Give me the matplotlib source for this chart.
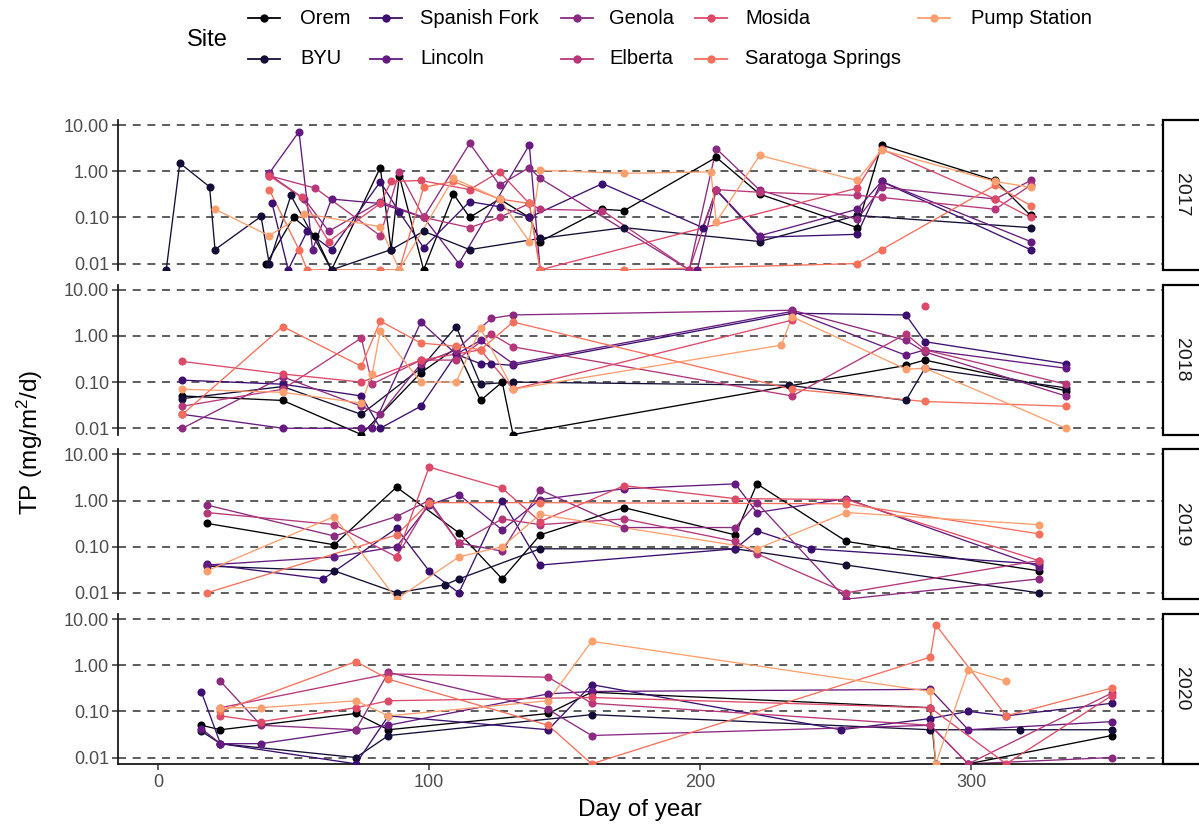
import numpy as np
import matplotlib
matplotlib.use("Agg")
import matplotlib.pyplot as plt
from matplotlib.lines import Line2D
from matplotlib.patches import Rectangle

plt.rcParams['font.family'] = ['Liberation Sans', 'DejaVu Sans']
plt.rcParams['mathtext.fontset'] = 'custom'
plt.rcParams['mathtext.rm'] = 'Liberation Sans'
plt.rcParams['mathtext.it'] = 'Liberation Sans:italic'

# ---- data -----------------------------------------------------------------
sites = ["Orem", "BYU", "Spanish Fork", "Lincoln", "Genola", "Elberta",
         "Mosida", "Saratoga Springs", "Pump Station"]
site_colors = ["#000004", "#140E36", "#3B0F70", "#641A80", "#8C2981",
               "#B73779", "#DE4968", "#F7705C", "#FE9F6D"]
years = [2017, 2018, 2019, 2020]
x_ticks = [0, 100, 200, 300]
y_ticks = [0.01, 0.1, 1, 10]
y_tick_labels = ["0.01", "0.10", "1.00", "10.00"]

# sampling day of year and total phosphorus flux (mg/m2/d), per site and year
orem_day = {
    2017: [40, 50, 58, 64, 82, 86, 89, 98, 109, 115, 126, 137, 141, 164, 172, 206, 222, 258, 267, 309, 322],
    2018: [9, 46, 75, 97, 110, 119, 127, 131, 276, 283, 335],
    2019: [18, 65, 88, 111, 127, 141, 172, 213, 221, 254, 325],
    2020: [16, 23, 73, 85, 144, 160, 285, 287, 299, 352],
}
orem_tp = {
    2017: [0.01, 0.1, 0.04, 0.0073, 1.2, 0.02, 0.8, 0.0073, 0.32, 0.1, 0.25, 0.1, 0.03, 0.15, 0.14, 2.0, 0.32, 0.06, 3.7, 0.63, 0.11],
    2018: [0.05, 0.04, 0.0073, 0.16, 0.55, 0.04, 0.1, 0.0073, 0.23, 0.3, 0.065],
    2019: [0.32, 0.11, 1.95, 0.2, 0.02, 0.18, 0.7, 0.18, 2.3, 0.13, 0.03],
    2020: [0.05, 0.04, 0.09, 0.04, 0.09, 0.26, 0.12, 0.0073, 0.0073, 0.03],
}
byu_day = {
    2017: [3, 8, 19, 21, 38, 41, 49, 64, 86, 98, 115, 141, 172, 222, 258, 322],
    2018: [9, 46, 75, 97, 110, 119, 131, 233, 276, 283, 335],
    2019: [18, 65, 88, 106, 111, 141, 213, 254, 325],
    2020: [16, 23, 73, 85, 160, 285, 318, 352],
}
byu_tp = {
    2017: [0.0073, 1.5, 0.46, 0.02, 0.105, 0.01, 0.3, 0.0073, 0.02, 0.05, 0.02, 0.035, 0.06, 0.03, 0.11, 0.06],
    2018: [0.044, 0.08, 0.02, 0.2, 1.6, 0.09, 0.1, 0.085, 0.04, 0.2, 0.075],
    2019: [0.038, 0.03, 0.01, 0.015, 0.02, 0.09, 0.09, 0.04, 0.01],
    2020: [0.037, 0.02, 0.01, 0.03, 0.085, 0.04, 0.04, 0.04],
}
spanish_fork_day = {
    2017: [42, 48, 55, 64, 82, 89, 98, 115, 126, 137, 164, 201, 206, 222, 258, 267, 322],
    2018: [9, 46, 75, 82, 97, 110, 119, 123, 131, 234, 276, 283, 335],
    2019: [18, 61, 88, 100, 111, 127, 141, 213, 221, 241, 325],
    2020: [16, 23, 73, 85, 144, 160, 252, 285, 299, 313, 352],
}
spanish_fork_tp = {
    2017: [0.21, 0.0073, 0.05, 0.02, 0.59, 0.13, 0.022, 0.22, 0.17, 0.1, 0.54, 0.06, 0.39, 0.037, 0.043, 0.6, 0.02],
    2018: [0.11, 0.09, 0.05, 0.01, 0.03, 0.4, 0.25, 0.25, 0.23, 3.1, 2.85, 0.75, 0.25],
    2019: [0.042, 0.02, 0.25, 0.03, 0.01, 1.0, 0.04, 0.09, 0.22, 0.09, 0.042],
    2020: [0.26, 0.02, 0.0073, 0.08, 0.04, 0.38, 0.04, 0.07, 0.1, 0.08, 0.15],
}
lincoln_day = {
    2017: [41, 52, 57, 64, 82, 98, 111, 137, 141, 199, 206, 222, 258, 267, 322],
    2018: [9, 46, 75, 79, 97, 110, 119, 131, 234, 276, 283, 335],
    2019: [18, 65, 88, 100, 111, 127, 141, 172, 213, 221, 254, 325],
    2020: [16, 23, 38, 73, 85, 144, 160, 285, 299, 352],
}
lincoln_tp = {
    2017: [0.9, 7.2, 0.02, 0.25, 0.2, 0.1, 0.01, 3.7, 0.0073, 0.0073, 0.4, 0.04, 0.15, 0.6, 0.03],
    2018: [0.02, 0.01, 0.01, 0.01, 2.0, 0.4, 0.8, 0.25, 3.4, 0.38, 0.5, 0.2],
    2019: [0.04, 0.06, 0.1, 0.8, 1.35, 0.23, 1.05, 1.8, 2.3, 0.55, 1.1, 0.037],
    2020: [0.042, 0.02, 0.02, 0.04, 0.05, 0.24, 0.27, 0.3, 0.04, 0.06],
}
genola_day = {
    2017: [41, 54, 63, 82, 98, 115, 126, 137, 141, 196, 206, 222, 258, 267, 309, 322],
    2018: [9, 46, 75, 82, 97, 110, 123, 131, 234, 276, 283, 335],
    2019: [18, 65, 88, 100, 111, 127, 141, 172, 213, 221, 254, 325],
    2020: [23, 38, 73, 85, 144, 160, 285, 299, 352],
}
genola_tp = {
    2017: [0.85, 0.25, 0.05, 0.22, 0.1, 4.0, 0.5, 1.2, 0.7, 0.0073, 3.1, 0.39, 0.09, 0.45, 0.25, 0.63],
    2018: [0.01, 0.13, 0.03, 0.02, 0.25, 0.5, 2.4, 2.85, 3.6, 0.8, 0.45, 0.05],
    2019: [0.8, 0.17, 0.45, 1.0, 0.12, 0.08, 1.7, 0.26, 0.26, 0.9, 0.0073, 0.02],
    2020: [0.45, 0.05, 0.04, 0.7, 0.11, 0.03, 0.05, 0.0073, 0.01],
}
elberta_day = {
    2017: [41, 58, 82, 89, 98, 115, 126, 137, 141, 164, 196, 206, 222, 258, 267, 309, 322],
    2018: [9, 46, 75, 79, 97, 110, 123, 131, 234, 276, 283, 335],
    2019: [18, 65, 88, 100, 111, 127, 141, 172, 213, 221, 254, 325],
    2020: [23, 85, 144, 160, 285, 299, 352],
}
elberta_tp = {
    2017: [0.8, 0.43, 0.04, 0.97, 0.1, 0.06, 0.1, 0.2, 0.15, 0.14, 0.0073, 0.4, 0.35, 0.3, 0.27, 0.15, 0.5],
    2018: [0.03, 0.07, 0.9, 0.09, 0.3, 0.3, 1.1, 0.58, 0.05, 1.1, 0.5, 0.09],
    2019: [0.55, 0.3, 0.06, 0.9, 0.12, 0.4, 0.3, 0.4, 0.13, 0.07, 0.01, 0.05],
    2020: [0.12, 0.65, 0.55, 0.15, 0.05, 0.0073, 0.25],
}
mosida_day = {
    2017: [41, 53, 63, 82, 86, 97, 115, 126, 137, 141, 258, 267, 309, 322],
    2018: [9, 46, 75, 97, 119, 131, 234, 260, 283],
    2019: [88, 100, 127, 141, 172, 213, 254, 325],
    2020: [23, 38, 73, 85, 160, 285, 313, 352],
}
mosida_tp = {
    2017: [0.8, 0.27, 0.03, 0.2, 0.6, 0.63, 0.4, 0.97, 0.2, 0.0073, 0.43, 3.0, 0.25, 0.1],
    2018: [0.28, 0.15, 0.1, 0.3, 0.5, 0.07, 2.2, np.nan, 4.5],
    2019: [0.06, 5.3, 1.85, 0.35, 2.1, 1.1, 1.05, 0.05],
    2020: [0.08, 0.06, 0.12, 0.17, 0.2, 0.12, 0.0073, 0.22],
}
saratoga_day = {
    2017: [41, 52, 55, 82, 89, 98, 109, 126, 137, 141, 172, 258, 267, 309, 322],
    2018: [9, 46, 75, 82, 97, 110, 119, 131, 234, 283, 335],
    2019: [18, 88, 100, 141, 254, 325],
    2020: [23, 73, 85, 144, 160, 285, 287, 313, 352],
}
saratoga_tp = {
    2017: [0.4, 0.02, 0.0073, 0.0073, 0.0073, 0.45, 0.6, 0.25, 0.2, 0.0073, 0.0073, 0.01, 0.02, 0.5, 0.18],
    2018: [0.02, 1.6, 0.22, 2.1, 0.7, 0.6, 0.5, 2.0, 0.07, 0.038, 0.03],
    2019: [0.01, 0.18, 0.9, 0.9, 0.85, 0.19],
    2020: [0.1, 1.2, 0.5, 0.05, 0.0073, 1.5, 7.5, 0.08, 0.32],
}
pump_day = {
    2017: [21, 41, 54, 82, 89, 109, 126, 137, 141, 172, 204, 206, 222, 258, 267, 309, 322],
    2018: [9, 46, 75, 79, 82, 97, 110, 119, 131, 230, 234, 276, 283, 335],
    2019: [18, 65, 88, 111, 127, 141, 221, 254, 325],
    2020: [23, 38, 73, 85, 144, 160, 285, 287, 299, 313],
}
pump_tp = {
    2017: [0.15, 0.04, 0.12, 0.063, 0.0073, 0.7, 0.25, 0.03, 1.05, 0.9, 0.97, 0.08, 2.2, 0.63, 2.9, 0.6, 0.45],
    2018: [0.07, 0.06, 0.035, 0.15, 1.3, 0.1, 0.1, 1.45, 0.07, 0.63, 2.6, 0.19, 0.2, 0.01],
    2019: [0.03, 0.45, 0.0073, 0.06, 0.1, 0.5, 0.09, 0.55, 0.3],
    2020: [0.12, 0.12, 0.17, 0.08, 0.17, 3.3, 0.27, 0.0073, 0.8, 0.45],
}

site_days = [orem_day, byu_day, spanish_fork_day, lincoln_day, genola_day,
             elberta_day, mosida_day, saratoga_day, pump_day]
site_tp = [orem_tp, byu_tp, spanish_fork_tp, lincoln_tp, genola_tp,
           elberta_tp, mosida_tp, saratoga_tp, pump_tp]

# ---- layout -----------------------------------------------------------------
W, H = 1199, 833
fig = plt.figure(figsize=(W / 100, H / 100), dpi=100)
fig.patch.set_facecolor("white")

left_px, right_px = 118, 1162
panel_h = 150
panel_tops = [120, 284.7, 449.3, 614]
tick_grey = "#4D4D4D"


def fig_rect(x0, y0, x1, y1):
    return [x0 / W, 1 - y1 / H, (x1 - x0) / W, (y1 - y0) / H]


for i, year in enumerate(years):
    top = panel_tops[i]
    ax = fig.add_axes(fig_rect(left_px, top, right_px, top + panel_h))
    ax.set_yscale("log")
    ax.set_ylim(10 ** -2.14, 10 ** 1.11)
    ax.set_xlim(-14.8, 370.5)
    ax.set_facecolor("white")

    for yv in y_ticks:
        ax.axhline(yv, color="#3A3A3A", lw=1.15, dashes=(5, 4.2), zorder=1)

    for days, tp, col in zip(site_days, site_tp, site_colors):
        ax.plot(days[year], tp[year], color=col, lw=0.95, zorder=2,
                solid_capstyle="butt")
    for days, tp, col in zip(site_days, site_tp, site_colors):
        ax.plot(days[year], tp[year], linestyle="none", marker="o", ms=5.8,
                mfc=col, mec=col, mew=0, zorder=3)

    ax.set_yticks(y_ticks)
    ax.set_yticklabels(y_tick_labels)
    ax.yaxis.set_minor_locator(matplotlib.ticker.NullLocator())
    ax.tick_params(axis="y", length=4, width=1.1, color="#333333",
                   labelsize=13, labelcolor=tick_grey, pad=2.5)
    for s in ["top", "right"]:
        ax.spines[s].set_visible(False)
    ax.spines["left"].set_linewidth(1.3)
    ax.spines["left"].set_color("#1A1A1A")

    if i < len(years) - 1:
        ax.spines["bottom"].set_visible(False)
        ax.set_xticks([])
    else:
        ax.spines["bottom"].set_linewidth(1.3)
        ax.spines["bottom"].set_color("#1A1A1A")
        ax.set_xticks(x_ticks)
        ax.set_xticklabels([str(v) for v in x_ticks])
        ax.tick_params(axis="x", length=4, width=1.1, color="#333333",
                       labelsize=13, labelcolor=tick_grey, pad=3)
        ax.set_xlabel("Day of year", fontsize=17.5, color="black", labelpad=6)

    # facet strip on the right
    strip = Rectangle(((right_px + 1) / W, 1 - (top + panel_h) / H),
                      40 / W, panel_h / H, transform=fig.transFigure,
                      facecolor="white", edgecolor="black", lw=1.6,
                      clip_on=False)
    fig.add_artist(strip)
    fig.text((right_px + 20) / W, 1 - (top + panel_h / 2) / H, str(year),
             rotation=-90, ha="center", va="center", fontsize=14,
             color="#1A1A1A")

fig.text(30 / W, 1 - 442 / H, "TP (mg/m$^2$/d)", rotation=90, ha="center",
         va="center", fontsize=17.5, color="black")

# ---- legend -----------------------------------------------------------------
fig.text(187 / W, 1 - 40 / H, "Site", ha="left", va="center", fontsize=17,
         color="black")
key_x = [264, 386, 577, 711, 934]
text_x = [300, 420, 609, 745, 971]
row_y = [18, 59]
for k, (name, col) in enumerate(zip(sites, site_colors)):
    c, r = divmod(k, 2)
    kx, ky = key_x[c], row_y[r]
    fig.add_artist(Line2D([(kx - 16) / W, (kx + 16) / W],
                          [1 - ky / H, 1 - ky / H], transform=fig.transFigure,
                          color=col, lw=1.3))
    fig.add_artist(Line2D([kx / W], [1 - ky / H], transform=fig.transFigure,
                          marker="o", ms=6, mfc=col, mec=col, mew=0,
                          linestyle="none"))
    fig.text(text_x[c] / W, 1 - ky / H, name, ha="left", va="center",
             fontsize=14.5, color="black")

fig.savefig("out.png", dpi=100, facecolor="white")
